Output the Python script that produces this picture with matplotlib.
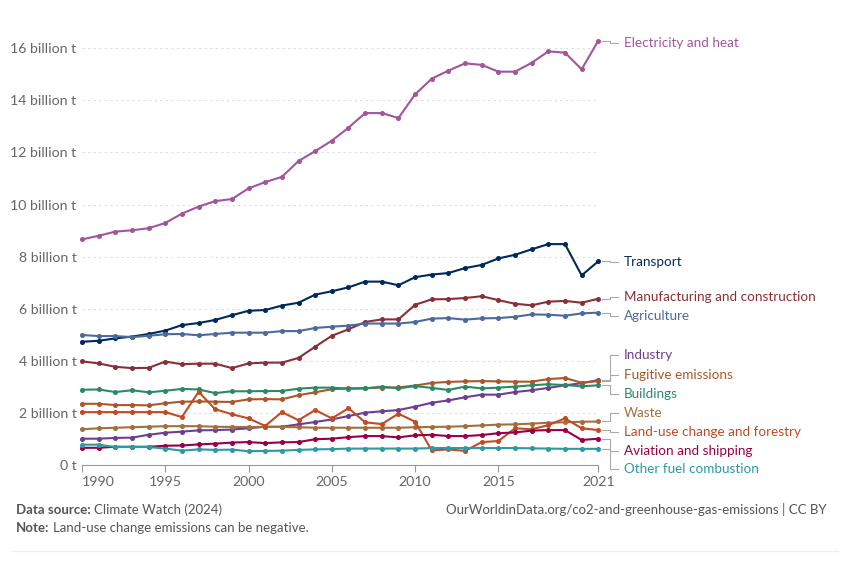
import matplotlib
matplotlib.use("Agg")
import matplotlib.pyplot as plt
from matplotlib.lines import Line2D

plt.rcParams['font.family'] = ['Lato', 'DejaVu Sans']

years = list(range(1990, 2022))

electricity = [8.66, 8.80, 8.96, 9.01, 9.09, 9.29, 9.65, 9.92, 10.13, 10.21, 10.62, 10.86,
               11.06, 11.67, 12.05, 12.45, 12.95, 13.51, 13.51, 13.32, 14.23, 14.83, 15.14,
               15.42, 15.36, 15.10, 15.10, 15.44, 15.88, 15.83, 15.19, 16.29]
transport = [4.73, 4.77, 4.86, 4.93, 5.03, 5.16, 5.37, 5.45, 5.57, 5.75, 5.92, 5.95,
             6.12, 6.23, 6.54, 6.67, 6.82, 7.04, 7.04, 6.90, 7.21, 7.31, 7.37, 7.56,
             7.68, 7.93, 8.07, 8.28, 8.48, 8.48, 7.28, 7.82]
manufacturing = [3.98, 3.90, 3.77, 3.72, 3.73, 3.97, 3.87, 3.89, 3.89, 3.72, 3.90, 3.93,
                 3.93, 4.11, 4.54, 4.96, 5.21, 5.49, 5.59, 5.59, 6.15, 6.36, 6.37, 6.41,
                 6.48, 6.33, 6.19, 6.13, 6.27, 6.30, 6.23, 6.38]
agriculture = [4.99, 4.95, 4.95, 4.91, 4.96, 5.02, 5.03, 4.98, 5.03, 5.08, 5.08, 5.08,
               5.14, 5.14, 5.26, 5.31, 5.35, 5.43, 5.43, 5.43, 5.49, 5.62, 5.64, 5.58,
               5.63, 5.64, 5.69, 5.78, 5.77, 5.73, 5.82, 5.85]
industry = [1.01, 1.01, 1.04, 1.05, 1.16, 1.24, 1.28, 1.33, 1.34, 1.36, 1.41, 1.47,
            1.47, 1.56, 1.65, 1.75, 1.88, 2.01, 2.06, 2.11, 2.24, 2.39, 2.48, 2.60,
            2.70, 2.70, 2.80, 2.87, 2.96, 3.06, 3.14, 3.26]
fugitive = [2.35, 2.35, 2.30, 2.30, 2.29, 2.37, 2.43, 2.44, 2.43, 2.42, 2.52, 2.53,
            2.52, 2.68, 2.79, 2.91, 2.94, 2.95, 2.97, 2.98, 3.05, 3.15, 3.19, 3.21,
            3.22, 3.21, 3.20, 3.20, 3.30, 3.34, 3.16, 3.22]
buildings = [2.89, 2.90, 2.80, 2.87, 2.79, 2.85, 2.92, 2.90, 2.76, 2.83, 2.83, 2.84,
             2.84, 2.93, 2.97, 2.97, 2.93, 2.94, 3.01, 2.94, 3.03, 2.96, 2.88, 3.01,
             2.94, 2.97, 3.01, 3.06, 3.10, 3.07, 3.02, 3.06]
waste = [1.37, 1.41, 1.43, 1.45, 1.47, 1.49, 1.49, 1.49, 1.47, 1.46, 1.46, 1.46,
         1.46, 1.45, 1.43, 1.43, 1.43, 1.43, 1.43, 1.43, 1.45, 1.46, 1.47, 1.49,
         1.52, 1.55, 1.56, 1.59, 1.62, 1.64, 1.66, 1.67]
landuse = [2.03, 2.03, 2.03, 2.03, 2.03, 2.03, 1.84, 2.81, 2.14, 1.95, 1.79, 1.50,
           2.03, 1.72, 2.11, 1.79, 2.18, 1.64, 1.57, 1.97, 1.66, 0.56, 0.60, 0.54,
           0.88, 0.92, 1.41, 1.37, 1.53, 1.79, 1.41, 1.34]
aviation = [0.66, 0.66, 0.70, 0.70, 0.70, 0.74, 0.75, 0.79, 0.82, 0.86, 0.88, 0.84,
            0.87, 0.88, 0.99, 1.01, 1.07, 1.11, 1.11, 1.06, 1.14, 1.16, 1.11, 1.11,
            1.15, 1.22, 1.25, 1.32, 1.34, 1.34, 0.96, 1.01]
other_fuel = [0.78, 0.78, 0.69, 0.69, 0.69, 0.63, 0.55, 0.60, 0.58, 0.59, 0.53, 0.54,
              0.55, 0.58, 0.60, 0.61, 0.63, 0.63, 0.63, 0.63, 0.63, 0.65, 0.65, 0.65,
              0.65, 0.65, 0.65, 0.64, 0.63, 0.62, 0.62, 0.62]

series_names = ["Electricity and heat", "Transport", "Manufacturing and construction",
                "Agriculture", "Industry", "Fugitive emissions", "Buildings", "Waste",
                "Land-use change and forestry", "Aviation and shipping",
                "Other fuel combustion"]
series_values = [electricity, transport, manufacturing, agriculture, industry, fugitive,
                 buildings, waste, landuse, aviation, other_fuel]
colors = ["#A2559C", "#00295B", "#883039", "#4C6A9C", "#6D3E91", "#A8582A",
          "#2A8A66", "#A2703D", "#C04B24", "#970046", "#2A9AA5"]

# label layout (vertical position of each end label, in billion t)
label_y = [16.20, 7.79, 6.45, 5.72, 4.22, 3.45, 2.73, 2.00, 1.27, 0.54, -0.15]

xticks = [1990, 1995, 2000, 2005, 2010, 2015, 2021]
yticks = [0, 2, 4, 6, 8, 10, 12, 14, 16]
ytick_labels = ["0 t"] + [f"{v} billion t" for v in yticks[1:]]

W, H = 850, 579
fig = plt.figure(figsize=(W / 100, H / 100), dpi=100)
ax_left, ax_right = 82, 598.3
ax_bottom, ax_top = 465, 32.6
ax = fig.add_axes([ax_left / W, (H - ax_bottom) / H, (ax_right - ax_left) / W,
                   (ax_bottom - ax_top) / H])
ax.set_xlim(1990, 2021)
ax.set_ylim(0, 16.6)

for v in yticks[1:]:
    ax.axhline(v, color="#dddddd", lw=0.8, ls=(0, (2, 3)), zorder=0)

for name, vals, c in zip(series_names, series_values, colors):
    ax.plot(years, vals, color=c, lw=1.5, marker="o", ms=2.6, mec=c, mfc=c,
            clip_on=False, zorder=3)

px = 1 / 16.64  # one pixel in years
for name, vals, c, ly in zip(series_names, series_values, colors, label_y):
    yend = vals[-1]
    x0 = 2021 + 4 * px
    xe = 2021 + 12 * px
    x1 = 2021 + 20 * px
    ax.add_line(Line2D([x0, xe, xe, x1], [yend, yend, ly, ly], color="#aaaaaa",
                       lw=0.8, clip_on=False))
    ax.text(2021 + 25.5 * px, ly, name, color=c, fontsize=9.7, va="center",
            ha="left", clip_on=False)

for s in ["top", "right", "left"]:
    ax.spines[s].set_visible(False)
ax.spines["bottom"].set_color("#999999")
ax.spines["bottom"].set_linewidth(0.8)
ax.set_xticks(xticks)
ax.set_xticklabels([str(x) for x in xticks])
ax.tick_params(axis="x", colors="#999999", length=5, width=0.8, labelsize=10.2,
               labelcolor="#666666", pad=3)
ax.get_xticklabels()[0].set_horizontalalignment("left")
ax.set_yticks(yticks)
ax.set_yticklabels(ytick_labels)
ax.tick_params(axis="y", length=0, labelsize=10.2, labelcolor="#666666", pad=4)

fs = 9.5
fig.canvas.draw()
rend = fig.canvas.get_renderer()


def bold_then_normal(x_px, y_px, bold, normal):
    t = fig.text(x_px / W, 1 - y_px / H, bold, fontsize=fs, fontweight="bold",
                 color="#555555", va="center")
    bb = t.get_window_extent(renderer=rend)
    fig.text((bb.x1 + 3.5) / W, 1 - y_px / H, normal, fontsize=fs,
             color="#555555", va="center")


bold_then_normal(16, 510, "Data source:", "Climate Watch (2024)")
bold_then_normal(16, 528, "Note:", "Land-use change emissions can be negative.")
fig.text(827 / W, 1 - 510 / H,
         "OurWorldinData.org/co2-and-greenhouse-gas-emissions | CC BY",
         fontsize=fs, color="#555555", va="center", ha="right")
fig.add_artist(Line2D([12 / W, 838 / W], [1 - 551 / H, 1 - 551 / H],
                      color="#eeeeee", lw=1, transform=fig.transFigure))

fig.savefig("out.png", dpi=100, facecolor="white")
